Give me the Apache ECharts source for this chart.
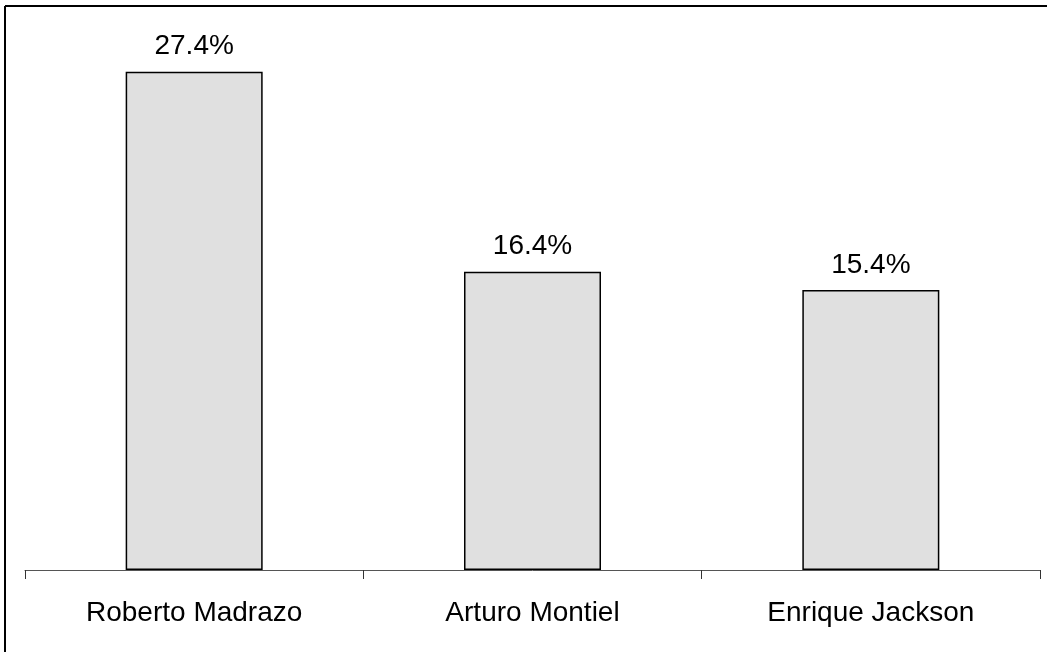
<!DOCTYPE html>
<html>
<head>
<meta charset="utf-8">
<script src="https://cdn.jsdelivr.net/npm/echarts@6/dist/echarts.min.js"></script>
<style>
  html, body { margin: 0; padding: 0; background: #fff; }
  #chart { width: 1047px; height: 652px; }
</style>
</head>
<body>
<div id="chart"></div>
<script>
// Candidates and their share of preference (%)
const candidates = ['Roberto Madrazo', 'Arturo Montiel', 'Enrique Jackson'];
const shares = [27.4, 16.4, 15.4];

const chart = echarts.init(document.getElementById('chart'), null, { renderer: 'canvas' });

const font = '"Liberation Sans", Arial, sans-serif';

chart.setOption({
  backgroundColor: '#ffffff',
  animation: false,
  grid: { left: 25, right: 7, top: 24.4, bottom: 82 },
  xAxis: {
    type: 'category',
    data: candidates,
    axisLine: { show: true, lineStyle: { color: '#555', width: 1 } },
    axisTick: { show: true, length: 9, lineStyle: { color: '#333', width: 1 } },
    axisLabel: { color: '#000', fontFamily: font, fontSize: 28, margin: 29 }
  },
  yAxis: {
    type: 'value',
    min: 0,
    max: 30,
    show: false,
    splitLine: { show: false }
  },
  series: [{
    type: 'bar',
    data: shares,
    barWidth: 137,
    itemStyle: { color: '#e0e0e0', borderColor: '#000', borderWidth: 1.5 },
    label: {
      show: true,
      position: 'top',
      distance: 11,
      color: '#000',
      fontFamily: font,
      fontSize: 28,
      formatter: p => p.value.toFixed(1) + '%'
    }
  }],
  graphic: [
    { type: 'line', shape: { x1: 5, y1: 6, x2: 1047, y2: 6 }, style: { stroke: '#000', lineWidth: 2 } },
    { type: 'line', shape: { x1: 5, y1: 6, x2: 5, y2: 652 }, style: { stroke: '#000', lineWidth: 2 } }
  ]
});
</script>
</body>
</html>
